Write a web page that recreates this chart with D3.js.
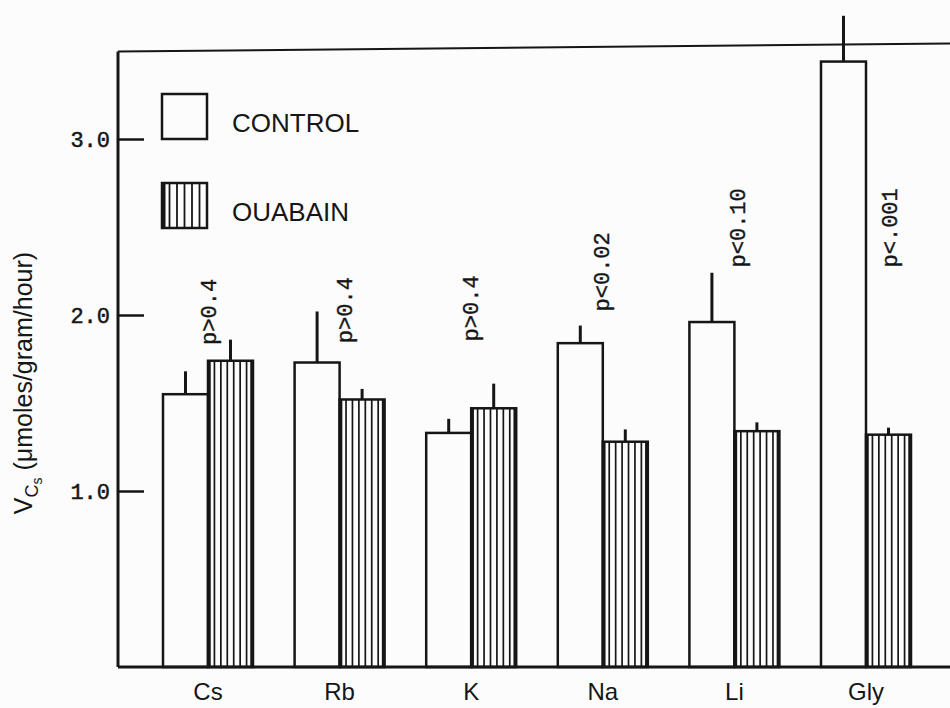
<!DOCTYPE html>
<html>
<head>
<meta charset="utf-8">
<script src="https://cdn.jsdelivr.net/npm/d3@7"></script>
<style>
  html, body { margin: 0; padding: 0; background: #fcfcfc; }
  svg { display: block; }
</style>
</head>
<body>
<svg id="chart" width="950" height="708"></svg>
<script>
let svg = d3.select("#chart");

// Data
let categories = ["Cs", "Rb", "K", "Na", "Li", "Gly"];
let controlMean = [1.55, 1.73, 1.33, 1.84, 1.96, 3.44];
let controlSE   = [0.13, 0.29, 0.08, 0.10, 0.28, 0.26];
let ouabainMean = [1.74, 1.52, 1.47, 1.28, 1.34, 1.32];
let ouabainSE   = [0.12, 0.06, 0.14, 0.07, 0.05, 0.04];
let pLabels     = ["p>0.4", "p>0.4", "p>0.4", "p<0.02", "p<0.10", "p<.001"];
let pLevel      = [1.83, 1.84, 1.85, 2.02, 2.27, 2.27];
let yTicks      = [1, 2, 3];

let ink = "#161616";
let monoFont = "'Liberation Mono', 'DejaVu Sans Mono', monospace";
let sansFont = "'Liberation Sans', Arial, sans-serif";
let barW = 45;
let pShift = [1, 6, 0, 0, 4, 24];

// Scales
let x = d3.scalePoint().domain(categories).range([208, 866]);
let y = d3.scaleLinear().domain([0, 3]).range([667, 139]);
let yTop = 3.52;

// Frame (scan is slightly tilted, top edge drops to the left)
svg.append("line")
    .attr("x1", 118).attr("x2", 118)
    .attr("y1", y(yTop) + 4).attr("y2", y(0))
    .attr("stroke", ink).attr("stroke-width", 3);
svg.append("line")
    .attr("x1", 118).attr("x2", 950)
    .attr("y1", y(yTop) + 4).attr("y2", y(yTop) - 4)
    .attr("stroke", ink).attr("stroke-width", 2);

// Y axis (ticks pointing inward)
let yAxis = d3.axisLeft(y)
    .tickValues(yTicks)
    .tickFormat(d3.format(".1f"))
    .tickSizeInner(-26)
    .tickSizeOuter(0)
    .tickPadding(8);

let gy = svg.append("g")
    .attr("transform", "translate(118,0)")
    .call(yAxis);
gy.select(".domain").remove();
gy.selectAll(".tick line").attr("stroke", ink).attr("stroke-width", 2.5);
gy.selectAll(".tick text")
    .attr("fill", ink)
    .attr("stroke", ink)
    .attr("stroke-width", 0.5)
    .attr("font-family", monoFont)
    .attr("font-size", 22)
    .attr("dy", "0.35em");

// Y label
let ylab = svg.append("text")
    .attr("transform", "translate(32,383) rotate(-90)")
    .attr("text-anchor", "middle")
    .attr("font-family", sansFont)
    .attr("font-size", 25)
    .attr("fill", ink);
ylab.append("tspan").text("V");
ylab.append("tspan").attr("font-size", 18).attr("dy", 6).text("C");
ylab.append("tspan").attr("font-size", 14).attr("dy", 4).text("s");
ylab.append("tspan").attr("dy", -10).text(" (\u03bcmoles/gram/hour)");

// Bars
let rows = categories.map((c, i) => ({
    cat: c,
    ctl: controlMean[i], ctlSE: controlSE[i],
    oua: ouabainMean[i], ouaSE: ouabainSE[i],
    p: pLabels[i], pAt: pLevel[i], shift: pShift[i]
}));

let groups = svg.append("g").selectAll("g")
    .data(rows)
    .join("g");

// control bar (open)
groups.append("rect")
    .attr("x", d => x(d.cat) - barW)
    .attr("y", d => y(d.ctl))
    .attr("width", barW)
    .attr("height", d => y(0) - y(d.ctl))
    .attr("fill", "none")
    .attr("stroke", ink)
    .attr("stroke-width", 2.5);

// ouabain bar (vertical hatching)
groups.each(function(d) {
    let g = d3.select(this);
    let x0 = x(d.cat), x1 = x(d.cat) + barW;
    let top = y(d.oua), bot = y(0);
    let n = 7;
    d3.range(1, n).forEach(k => {
        let xx = x0 + k * (barW / n);
        g.append("line")
            .attr("x1", xx).attr("x2", xx)
            .attr("y1", top).attr("y2", bot)
            .attr("stroke", ink).attr("stroke-width", 1.7);
    });
    g.append("rect")
        .attr("x", x0).attr("y", top)
        .attr("width", barW).attr("height", bot - top)
        .attr("fill", "none")
        .attr("stroke", ink)
        .attr("stroke-width", 2.5);
    [x0 + 1.5, x1 - 1.5].forEach(xx => {
        g.append("line")
            .attr("x1", xx).attr("x2", xx)
            .attr("y1", top).attr("y2", bot)
            .attr("stroke", ink).attr("stroke-width", 2.5);
    });
});

// error bars (upper only)
groups.append("line")
    .attr("x1", d => x(d.cat) - barW / 2)
    .attr("x2", d => x(d.cat) - barW / 2)
    .attr("y1", d => y(d.ctl))
    .attr("y2", d => y(d.ctl + d.ctlSE))
    .attr("stroke", ink).attr("stroke-width", 3);
groups.append("line")
    .attr("x1", d => x(d.cat) + barW / 2)
    .attr("x2", d => x(d.cat) + barW / 2)
    .attr("y1", d => y(d.oua))
    .attr("y2", d => y(d.oua + d.ouaSE))
    .attr("stroke", ink).attr("stroke-width", 3);

// p-values
groups.append("text")
    .attr("transform", d => "translate(" + (x(d.cat) + d.shift) + "," + y(d.pAt) + ") rotate(-90)")
    .attr("dy", "0.3em")
    .attr("font-family", monoFont)
    .attr("font-size", 22)
    .attr("fill", ink)
    .attr("stroke", ink)
    .attr("stroke-width", 0.4)
    .text(d => d.p);

// Baseline
svg.append("line")
    .attr("x1", 118).attr("x2", 950)
    .attr("y1", y(0)).attr("y2", y(0))
    .attr("stroke", ink).attr("stroke-width", 3);

// Category labels
svg.append("g").selectAll("text")
    .data(categories)
    .join("text")
    .attr("x", d => x(d))
    .attr("y", 700)
    .attr("text-anchor", "middle")
    .attr("font-family", sansFont)
    .attr("font-size", 24)
    .attr("fill", ink)
    .text(d => d);

// Legend
let legend = [
    {name: "CONTROL", hatch: false, y0: 94},
    {name: "OUABAIN", hatch: true, y0: 183}
];
let lg = svg.append("g").selectAll("g")
    .data(legend)
    .join("g")
    .attr("transform", d => "translate(162," + d.y0 + ")");
lg.each(function(d) {
    let g = d3.select(this);
    if (d.hatch) {
        d3.range(1, 6).forEach(k => {
            g.append("line")
                .attr("x1", k * 45 / 6).attr("x2", k * 45 / 6)
                .attr("y1", 0).attr("y2", 45)
                .attr("stroke", ink).attr("stroke-width", 1.8);
        });
        g.append("line").attr("x1", 2).attr("x2", 2).attr("y1", 0).attr("y2", 45)
            .attr("stroke", ink).attr("stroke-width", 3);
    }
    g.append("rect")
        .attr("width", 45).attr("height", 45)
        .attr("fill", "none").attr("stroke", ink).attr("stroke-width", 2.5);
    g.append("text")
        .attr("x", 70).attr("y", 38)
        .attr("font-family", sansFont)
        .attr("font-size", 26)
        .attr("fill", ink)
        .text(d.name);
});
</script>
</body>
</html>
